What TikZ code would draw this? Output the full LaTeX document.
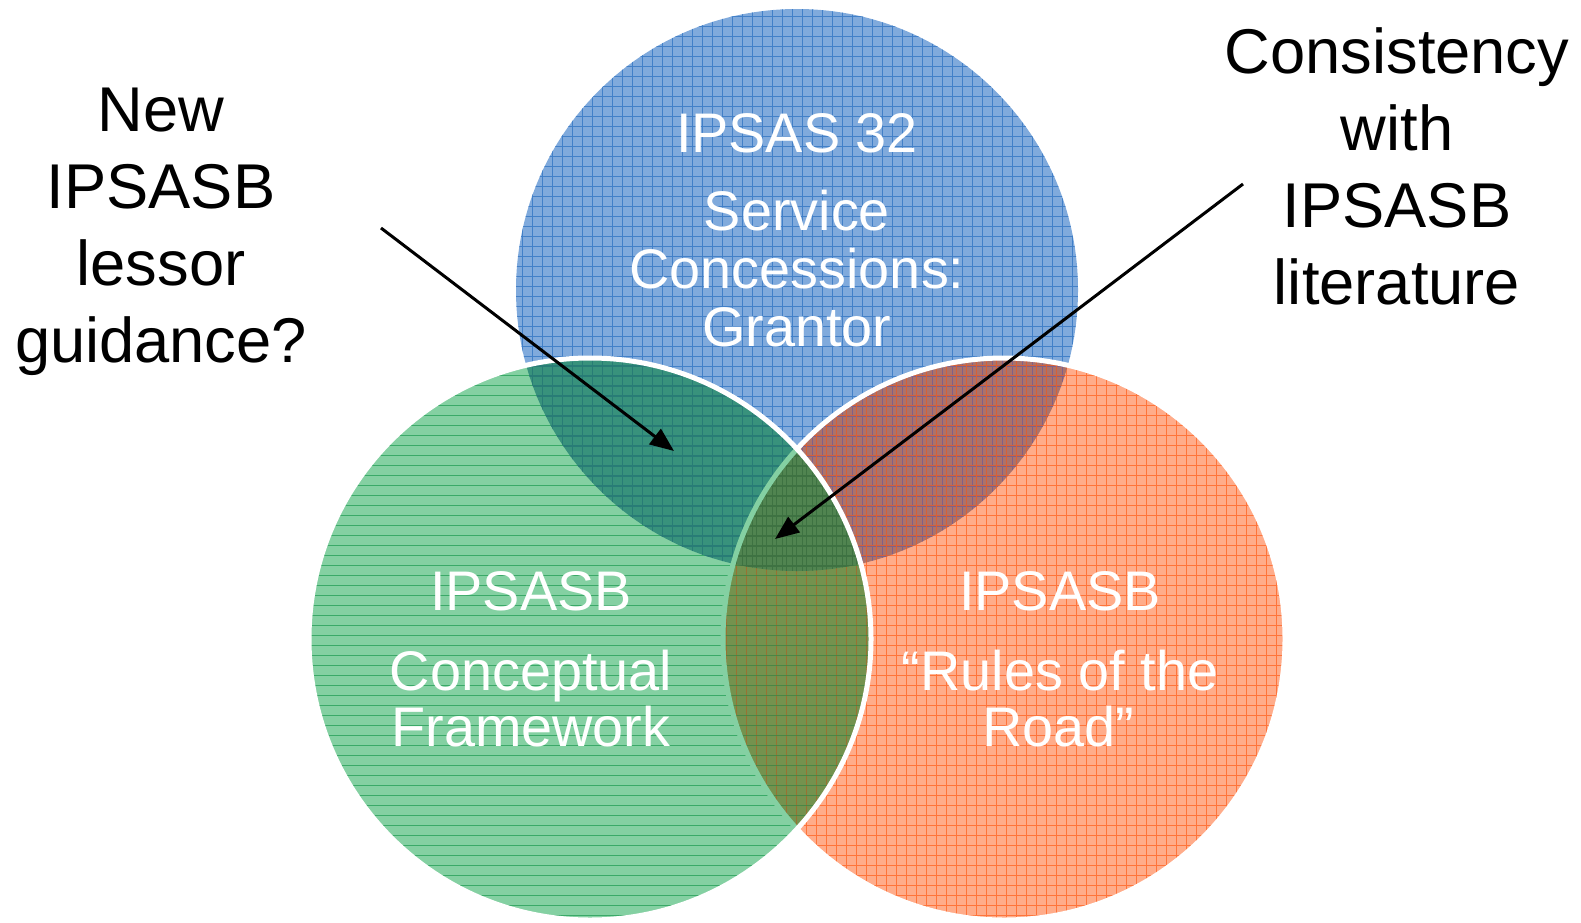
\documentclass[tikz,border=0pt]{standalone}
\usepackage{fontspec}
\setmainfont{Liberation Sans}
\usetikzlibrary{arrows.meta}

% single-set fills and pattern lines
\definecolor{bfill}{RGB}{128,170,220}
\definecolor{bline}{RGB}{66,128,200}
\definecolor{gfill}{RGB}{132,208,162}
\definecolor{gline}{RGB}{58,170,104}
\definecolor{rfill}{RGB}{255,172,138}
\definecolor{rline}{RGB}{255,116,58}
% overlap fills and their pattern lines
\definecolor{gbfill}{RGB}{56,146,124}
\definecolor{gbline}{RGB}{40,124,118}
\definecolor{brfill}{RGB}{172,114,106}
\definecolor{brline}{RGB}{214,96,56}
\definecolor{brbline}{RGB}{128,96,136}
\definecolor{grfill}{RGB}{116,146,78}
\definecolor{grline}{RGB}{152,114,50}
\definecolor{grgline}{RGB}{74,134,68}
\definecolor{allfill}{RGB}{80,132,80}
\definecolor{allline}{RGB}{62,114,66}

\tikzset{
  ring/.style={draw=white, line width=5bp},
  hatchline/.style={line width=1bp},
  circletext/.style={text=white, anchor=base, inner sep=0pt,
    font=\fontsize{56}{58}\selectfont},
  sidetext/.style={text=black, anchor=base, inner sep=0pt,
    font=\fontsize{63.5}{77}\selectfont},
  pointer/.style={line width=3bp, black,
    -{Triangle[length=24bp,width=19bp]}}
}

% pattern line sets, drawn in a given colour
\newcommand\bluegrid[1]{%
  \foreach \xx in {512,522,...,1082}
    \draw[hatchline, #1] (\xx,0) -- (\xx,580);
  \foreach \yy in {6,16,...,576}
    \draw[hatchline, #1] (510,\yy) -- (1085,\yy);}
\newcommand\redgrid[1]{%
  \foreach \xx in {716,726,...,1296}
    \draw[hatchline, #1] (\xx,350) -- (\xx,925);
  \foreach \yy in {355,365,...,925}
    \draw[hatchline, #1] (715,\yy) -- (1300,\yy);}
\newcommand\greenlines[1]{%
  \foreach \yy in {355,365,...,925}
    \draw[hatchline, #1] (300,\yy) -- (880,\yy);}

\begin{document}
\begin{tikzpicture}[x=1bp,y=-1bp]
\useasboundingbox (0,0) rectangle (1581,922);

% centres and radius of the three sets
\coordinate (cb) at (797,290);
\coordinate (cg) at (590,639);
\coordinate (cr) at (1004,639);
\def\rad{281}

% upper set
\fill[bfill] (cb) circle[radius=\rad];
\begin{scope}
  \clip (cb) circle[radius=\rad];
  \bluegrid{bline}
\end{scope}

% right set
\fill[rfill] (cr) circle[radius=\rad];
\begin{scope}
  \clip (cr) circle[radius=\rad];
  \redgrid{rline}
\end{scope}
\begin{scope}
  \clip (cr) circle[radius=\rad];
  \clip (cb) circle[radius=\rad];
  \fill[brfill] (cr) circle[radius=\rad];
  \bluegrid{brbline}
  \redgrid{brline}
\end{scope}
\draw[ring] (cr) circle[radius=\rad];

% left set
\fill[gfill] (cg) circle[radius=\rad];
\begin{scope}
  \clip (cg) circle[radius=\rad];
  \greenlines{gline}
\end{scope}
\begin{scope}
  \clip (cg) circle[radius=\rad];
  \clip (cb) circle[radius=\rad];
  \fill[gbfill] (cg) circle[radius=\rad];
  \bluegrid{gbline}
  \greenlines{gbline}
\end{scope}
\begin{scope}
  \clip (cg) circle[radius=\rad];
  \clip (cr) circle[radius=\rad];
  \fill[grfill] (cg) circle[radius=\rad];
  \redgrid{grline}
  \greenlines{grgline}
\end{scope}
\begin{scope}
  \clip (cg) circle[radius=\rad];
  \clip (cr) circle[radius=\rad];
  \clip (cb) circle[radius=\rad];
  \fill[allfill] (cg) circle[radius=\rad];
  \redgrid{allline}
  \bluegrid{allline}
  \greenlines{allline}
\end{scope}
% rim of the right set seen through the left set
\begin{scope}
  \clip (cg) circle[radius=\rad];
  \draw[gfill, line width=5bp] (cr) circle[radius=\rad];
\end{scope}
\draw[ring] (cg) circle[radius=\rad];

% labels inside the sets
\node[circletext] (b1) at (797,152) {IPSAS 32};
\node[circletext] (b2) at (797,230) {Service};
\node[circletext] (b3) at (797,288) {Concessions:};
\node[circletext] (b4) at (797,346) {Grantor};

\node[circletext] (g1) at (531,610) {IPSASB};
\node[circletext] (g2) at (531,690) {Conceptual};
\node[circletext] (g3) at (531,746) {Framework};

\node[circletext] (r1) at (1060,610) {IPSASB};
\node[circletext] (r2) at (1060,690) {“Rules of the};
\node[circletext] (r3) at (1058,746) {Road”};

% side captions
\node[sidetext] (l1) at (161,131) {New};
\node[sidetext] (l2) at (161,208) {IPSASB};
\node[sidetext] (l3) at (161,285) {lessor};
\node[sidetext] (l4) at (161,362) {guidance?};

\node[sidetext] (t1) at (1397,73) {Consistency};
\node[sidetext] (t2) at (1397,150) {with};
\node[sidetext] (t3) at (1397,227) {IPSASB};
\node[sidetext] (t4) at (1397,304) {literature};

% pointers into the overlaps
\coordinate (p1s) at (381,228);
\coordinate (p1e) at (674,451);
\coordinate (p2s) at (1243,184);
\coordinate (p2e) at (775,539);
\draw[pointer] (p1s) -- (p1e);
\draw[pointer] (p2s) -- (p2e);
\end{tikzpicture}
\end{document}
